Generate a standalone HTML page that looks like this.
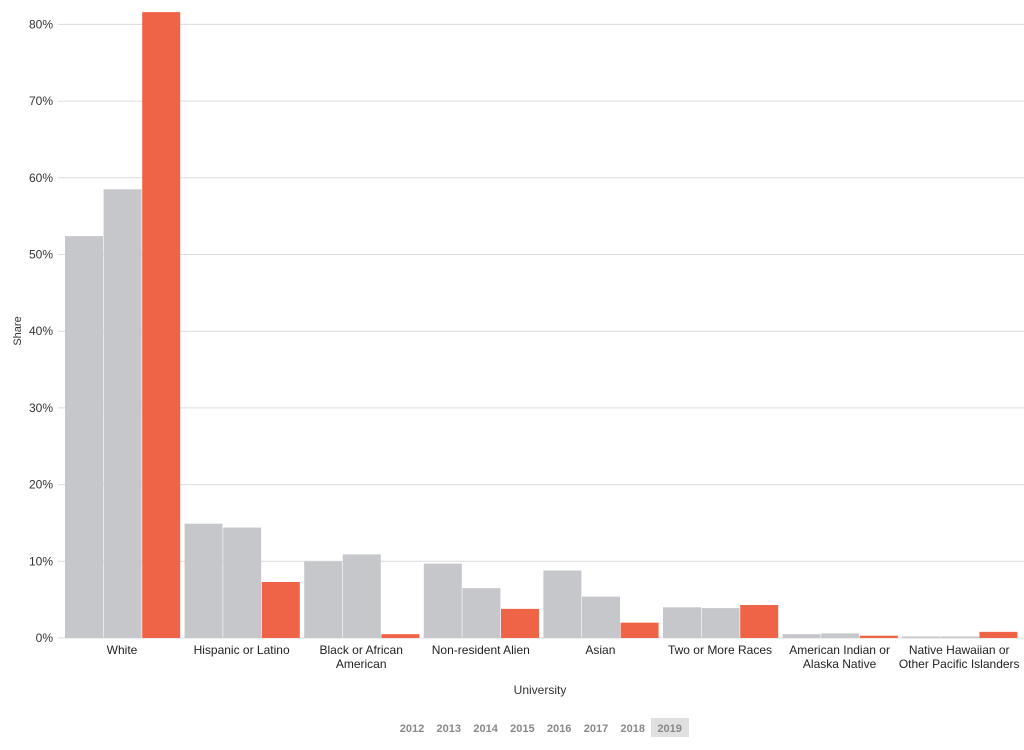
<!DOCTYPE html>
<html><head><meta charset="utf-8"><style>
body{margin:0;background:#fff;}
svg text{font-family:"Liberation Sans",sans-serif;}
</style></head><body>
<svg id="c" width="1024" height="745" xmlns="http://www.w3.org/2000/svg"></svg>
<script>
const s=document.getElementById('c');let h='';
const y=v=>638-v*7.67;
for(let i=0;i<=8;i++){const yy=y(i*10);
h+=`<line x1="58" x2="1024" y1="${yy}" y2="${yy}" stroke="#dcdcdc" stroke-width="1"/>`;
h+=`<text x="53" y="${yy+4}" font-size="12" text-anchor="end" fill="#333">${i*10}%</text>`;}
const d=[[52.4,58.5,81.6],[14.9,14.4,7.3],[10.0,10.9,0.5],[9.7,6.5,3.8],[8.8,5.4,2.0],[4.0,3.9,4.3],[0.5,0.6,0.3],[0.2,0.2,0.8]];
const L=[["White"],["Hispanic or Latino"],["Black or African","American"],["Non-resident Alien"],["Asian"],["Two or More Races"],["American Indian or","Alaska Native"],["Native Hawaiian or","Other Pacific Islanders"]];
d.forEach((g,i)=>{const x0=65+i*119.6;
g.forEach((v,j)=>{const x=x0+j*38.6;h+=`<rect x="${x}" y="${y(v)}" width="38" height="${638-y(v)}" fill="${j==2?'#ef6347':'#c6c7ca'}"/>`;});
L[i].forEach((t,k)=>{h+=`<text x="${x0+57}" y="${654+k*14}" font-size="12" text-anchor="middle" fill="#222">${t}</text>`;});});
h+=`<text x="540" y="694" font-size="12" text-anchor="middle" fill="#333">University</text>`;
h+=`<text transform="translate(21,331) rotate(-90)" font-size="11" text-anchor="middle" fill="#333">Share</text>`;
h+=`<rect x="651" y="718" width="38" height="19" fill="#e0e0e0"/>`;
[2012,2013,2014,2015,2016,2017,2018,2019].forEach((yr,i)=>{h+=`<text x="${412+i*36.8}" y="732" font-size="11" font-weight="bold" text-anchor="middle" fill="#888">${yr}</text>`;});
s.innerHTML=h;
</script>
</body></html>
